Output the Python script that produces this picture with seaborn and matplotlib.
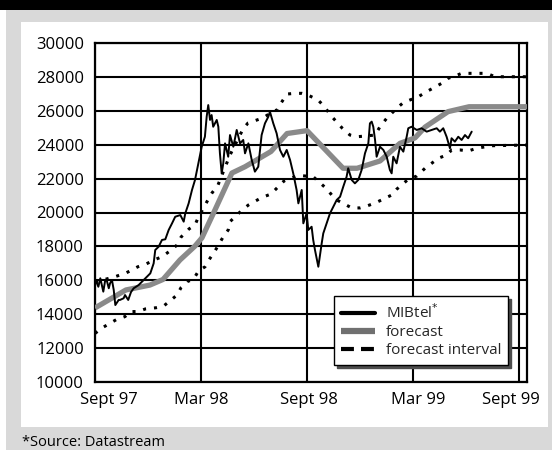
import pandas as pd
import seaborn as sns
import matplotlib.pyplot as plt
from matplotlib.lines import Line2D
from matplotlib.patches import Rectangle
from matplotlib.transforms import ScaledTranslation

# Months counted from September 1997
months_mib = [0.00, 0.11, 0.19, 0.30, 0.47, 0.58, 0.66, 0.78, 0.85, 0.96, 1.06, 1.15, 1.34, 1.41,
              1.62, 1.70, 1.88, 2.04, 2.19, 2.47, 2.76, 2.94, 3.13, 3.32, 3.41, 3.60, 3.79, 3.98,
              4.17, 4.36, 4.54, 4.83, 5.02, 5.11, 5.30, 5.49, 5.66, 5.85, 6.04, 6.22, 6.32, 6.41,
              6.51, 6.60, 6.69, 6.89, 6.98, 7.07, 7.17, 7.26, 7.36, 7.54, 7.64, 7.83, 8.02, 8.21,
              8.39, 8.49, 8.68, 8.87, 9.05, 9.24, 9.43, 9.62, 9.81, 9.90, 10.09, 10.28, 10.47,
              10.66, 10.85, 11.04, 11.22, 11.41, 11.51, 11.70, 11.79, 11.98, 12.07, 12.26, 12.35,
              12.45, 12.64, 12.83, 12.92, 13.11, 13.30, 13.49, 13.68, 13.87, 14.05, 14.24, 14.33,
              14.53, 14.71, 14.90, 15.09, 15.28, 15.47, 15.56, 15.66, 15.75, 15.85, 15.94, 16.13,
              16.32, 16.51, 16.69, 16.79, 16.88, 17.07, 17.26, 17.45, 17.64, 17.73, 17.92, 18.21,
              18.49, 18.77, 19.05, 19.34, 19.52, 19.71, 19.90, 20.09, 20.18, 20.37, 20.56, 20.75,
              20.94, 21.12, 21.32]
mibtel = [16020, 15820, 15620, 16120, 15330, 16020, 16020, 15530, 15820, 16020, 15430, 14540, 14840, 14840,
          14940, 15130, 14840, 15310, 15530, 15720, 16020, 16210, 16410, 17000, 17790, 17980, 18380, 18420,
          18970, 19360, 19750, 19850, 19460, 19950, 20540, 21330, 21920, 22900, 23880, 24470, 25650, 26340,
          25460, 25750, 25060, 25460, 25060, 23490, 22310, 22900, 24080, 23290, 24570, 23880, 24870, 24080,
          24280, 23490, 24080, 23100, 22410, 22700, 24570, 25260, 25650, 25950, 25260, 24670, 23690,
          23290, 23690, 23100, 22310, 21330, 20540, 21330, 19360, 19950, 18970, 19160, 18380,
          17790, 16800, 18180, 18770, 19360, 19950, 20340, 20740, 20930, 21520, 22110, 22610,
          21920, 21720, 21920, 22510, 23490, 24080, 25260, 25360, 25060, 24280, 23290, 23880,
          23690, 23290, 22510, 22310, 23290, 22900, 23880, 23590, 24470, 24970, 25060, 24870,
          24970, 24770, 24870, 24970, 24770, 24970, 24470, 23790, 24380, 24180, 24470, 24280,
          24570, 24380, 24770]

months_fc = [0.00, 1.75, 3.11, 3.85, 4.81, 5.66, 6.05, 6.79, 7.75, 8.49, 9.96, 10.87, 12.00,
             14.04, 14.83, 16.13, 17.26, 18.11, 18.68, 19.98, 21.17, 24.45]
forecast = [14370, 15430, 15720, 16050, 17200, 18020, 18500, 20150, 22330, 22700, 23600, 24660, 24830,
            22610, 22610, 23040, 24080, 24400, 25040, 25950, 26240, 26240]

months_up = [0.00, 1.13, 1.79, 2.43, 2.89, 3.34, 3.79, 4.24, 4.64, 4.87, 5.32, 5.66, 5.83, 6.39, 6.62,
             6.96, 7.64, 8.38, 8.66, 9.51, 10.02, 10.36, 10.53, 10.87, 11.32, 11.71, 12.05, 12.62,
             12.90, 13.47, 13.98, 14.43, 14.83, 15.28, 15.85, 16.13, 16.51, 16.79, 17.07, 17.45,
             17.83, 18.30, 18.77, 19.62, 19.99, 20.37, 20.75, 22.17, 22.64, 24.45]
upper = [15900, 16210, 16450, 16800, 16960, 17200, 17390, 17730, 18080, 18550, 19030, 19260, 19680,
         20740, 21150, 21620, 23390, 24930, 25280, 25580, 25930, 26080, 26460, 26990, 27030, 27030,
         26930, 26640, 26340, 25580, 24990, 24570, 24470, 24510, 24570, 25060, 25560, 25850, 26150,
         26480, 26640, 26830, 27130, 27620, 27920, 28050, 28210, 28210, 28010, 28010]

months_lo = [0.00, 0.48, 1.19, 1.70, 2.00, 2.46, 2.85, 3.45, 3.88, 4.26, 4.64, 4.87, 5.21, 5.57, 5.86,
             6.23, 6.51, 6.79, 7.26, 7.54, 7.64, 8.30, 8.68, 9.43, 9.96, 10.37, 10.70, 11.51, 12.35,
             13.11, 13.40, 13.68, 14.53, 15.00, 15.38, 15.85, 16.22, 16.79, 17.07, 17.73, 18.21,
             18.68, 19.05, 19.43, 19.90, 20.19, 20.66, 21.13, 21.60, 22.45, 24.45]
lower = [12870, 13240, 13670, 13860, 14150, 14160, 14310, 14380, 14480, 14800, 15130, 15570, 15920,
         16060, 16550, 16800, 17300, 17730, 18570, 18970, 19460, 20120, 20440, 20880, 21090, 21520,
         21860, 22190, 22110, 21400, 21030, 20740, 20270, 20270, 20380, 20560, 20740, 21030, 21370,
         21960, 22150, 22610, 22900, 23200, 23390, 23690, 23690, 23630, 23790, 23940, 23980]

tick_months = [0, 6, 12, 18, 24]
tick_labels = ["Sept 97", "Mar 98", "Sept 98", "Mar 99", "Sept 99"]
label_shift_px = [14, 0, 2, 5, -8]
y_ticks = list(range(10000, 30001, 2000))

sns.set_theme(style="white")
plt.rcParams['font.family'] = ['Open Sans', 'DejaVu Sans']

W, H = 552, 450
fig = plt.figure(figsize=(W / 100, H / 100), dpi=100)
fig.patch.set_facecolor('white')


def panel(x0, y0, x1, y1, color):
    fig.add_artist(Rectangle((x0 / W, 1 - y1 / H), (x1 - x0) / W, (y1 - y0) / H,
                             transform=fig.transFigure, facecolor=color,
                             edgecolor='none', zorder=-5))


panel(0, 0, 552, 10, 'black')
panel(6, 10, 552, 450, '#d9d9d9')
panel(21, 22, 548, 427, 'white')

ax = fig.add_axes([95 / W, 1 - 382 / H, 432 / W, 339 / H])
ax.set_facecolor('white')

df_fc = pd.DataFrame({'month': months_fc, 'level': forecast})
df_up = pd.DataFrame({'month': months_up, 'level': upper})
df_lo = pd.DataFrame({'month': months_lo, 'level': lower})
df_mib = pd.DataFrame({'month': months_mib, 'level': mibtel})

sns.lineplot(data=df_fc, x='month', y='level', ax=ax, estimator=None, sort=False,
             color='#8a8a8a', lw=3.8, solid_capstyle='butt', zorder=3)
for df in (df_up, df_lo):
    sns.lineplot(data=df, x='month', y='level', ax=ax, estimator=None, sort=False,
                 color='black', lw=2.2, linestyle=(0, (1, 2.6)), dash_capstyle='butt', zorder=4)
sns.lineplot(data=df_mib, x='month', y='level', ax=ax, estimator=None, sort=False,
             color='black', lw=1.4, zorder=5)

ax.set_xlim(0, 24.45)
ax.set_ylim(10000, 30000)
ax.set_yticks(y_ticks)
ax.set_yticklabels([str(v) for v in y_ticks])
ax.set_xticks(tick_months)
ax.set_xticklabels(tick_labels)
ax.set_xlabel('')
ax.set_ylabel('')
ax.tick_params(axis='both', length=0, labelsize=12, colors='black')
ax.tick_params(axis='y', pad=8)
ax.tick_params(axis='x', pad=7)
for lab, dx in zip(ax.get_xticklabels(), label_shift_px):
    lab.set_transform(lab.get_transform() + ScaledTranslation(dx / 100, 0, fig.dpi_scale_trans))

ax.set_axisbelow(True)
ax.grid(True, color='black', lw=1.5)
for s in ax.spines.values():
    s.set_visible(True)
    s.set_color('black')
    s.set_linewidth(1.6)

handles = [Line2D([], [], color='black', lw=3),
           Line2D([], [], color='#707070', lw=4.5, solid_capstyle='butt'),
           Line2D([], [], color='black', lw=3, linestyle=(0, (3.1, 1.7)), dash_capstyle='butt')]
labels = ['MIBtel$^{*}$', 'forecast', 'forecast interval']
leg = ax.legend(handles, labels, loc='lower right', bbox_to_anchor=(0.956, 0.050),
                borderaxespad=0, fontsize=11, handlelength=2.2, handletextpad=0.7,
                labelspacing=0.2, borderpad=0.45, fancybox=False, framealpha=1,
                shadow={'color': '#4d4d4d', 'alpha': 1})
leg.get_frame().set_edgecolor('black')
leg.get_frame().set_linewidth(1.0)
leg.set_zorder(10)

fig.text(22 / W, 1 - 442 / H, '*Source: Datastream', fontsize=10.5, color='black',
         ha='left', va='center')

fig.savefig('out.png', dpi=100)
